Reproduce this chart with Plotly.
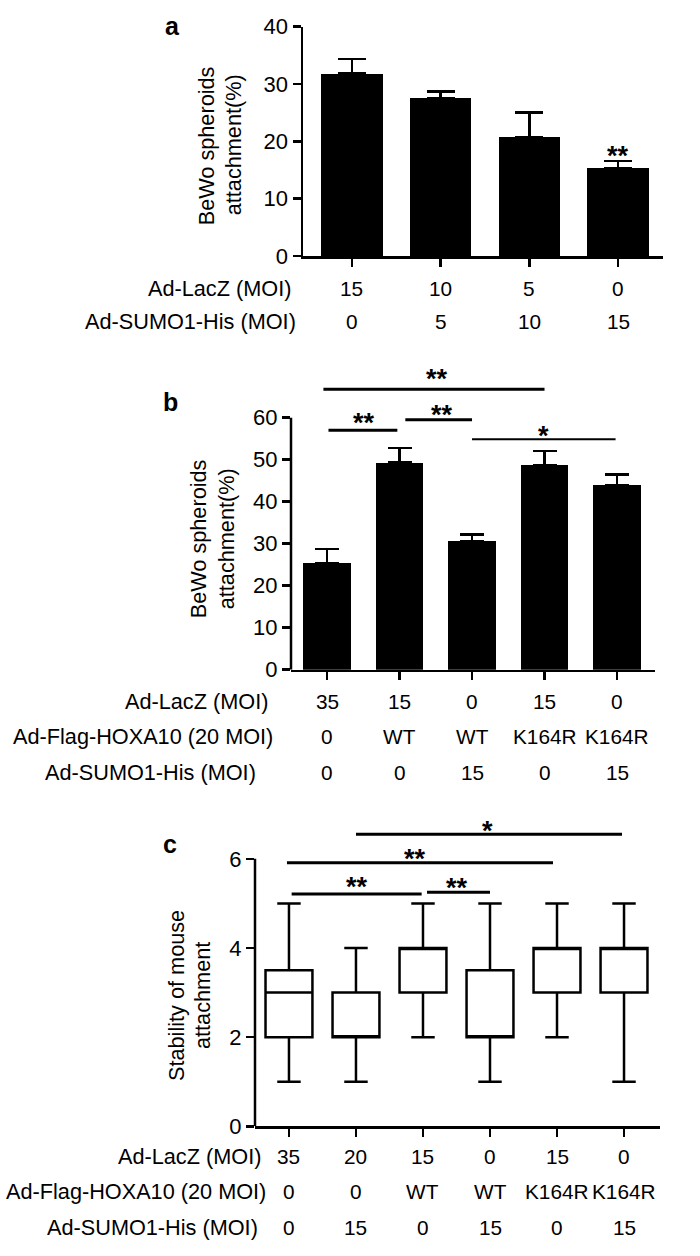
import plotly.graph_objects as go

W, H = 700, 1256
FONT = "Arial, Liberation Sans, sans-serif"

# ---------------- data ----------------
# panel a
a_lacz = ["15", "10", "5", "0"]
a_sumo = ["0", "5", "10", "15"]
a_values = [31.8, 27.5, 20.7, 15.4]
a_err = [2.6, 1.2, 4.3, 1.2]
a_yticks = [0, 10, 20, 30, 40]
a_star_x = [3]
a_star_y = [17.4]
a_star_txt = ["**"]

# panel b
b_lacz = ["35", "15", "0", "15", "0"]
b_hoxa = ["0", "WT", "WT", "K164R", "K164R"]
b_sumo = ["0", "0", "15", "0", "15"]
b_values = [25.4, 49.3, 30.6, 48.8, 43.9]
b_err = [3.3, 3.5, 1.6, 3.3, 2.6]
b_yticks = [0, 10, 20, 30, 40, 50, 60]
b_br_x0 = [-0.05, 0.02, 1.08, 2.0]
b_br_x1 = [3.0, 0.97, 2.0, 3.98]
b_br_y = [66.8, 57.0, 59.5, 54.9]
b_br_w = [3, 3, 3, 2]
b_star_x = [1.52, 0.51, 1.59, 2.98]
b_star_y = [69.3, 58.8, 60.7, 55.6]
b_star_txt = ["**", "**", "**", "*"]

# panel c
c_lacz = ["35", "20", "15", "0", "15", "0"]
c_hoxa = ["0", "0", "WT", "WT", "K164R", "K164R"]
c_sumo = ["0", "15", "0", "15", "0", "15"]
c_min = [1, 1, 2, 1, 2, 1]
c_q1 = [2, 2, 3, 2, 3, 3]
c_med = [3, 2, 4, 2, 4, 4]
c_q3 = [3.5, 3, 4, 3.5, 4, 4]
c_max = [5, 4, 5, 5, 5, 5]
c_yticks = [0, 2, 4, 6]
c_br_x0 = [1.0, -0.03, 0.04, 2.06]
c_br_x1 = [4.97, 3.94, 1.98, 3.0]
c_br_y = [6.55, 5.91, 5.21, 5.25]
c_star_x = [2.97, 1.88, 1.01, 2.51]
c_star_y = [6.62, 6.0, 5.36, 5.34]
c_star_txt = ["*", "**", "**", "**"]


def px(p):
    return p / W


def py(p):
    return 1 - p / H


fig = go.Figure()

# ---- panel a bars
fig.add_trace(go.Bar(
    x=list(range(len(a_values))), y=a_values, width=0.69,
    marker=dict(color="black", line=dict(color="black", width=0)),
    error_y=dict(type="data", array=a_err, symmetric=False,
                 arrayminus=[0] * len(a_err), color="black", thickness=2.5, width=14),
    xaxis="x", yaxis="y", hoverinfo="skip", showlegend=False))

# ---- panel b bars
fig.add_trace(go.Bar(
    x=list(range(len(b_values))), y=b_values, width=0.66,
    marker=dict(color="black", line=dict(color="black", width=0)),
    error_y=dict(type="data", array=b_err, symmetric=False,
                 arrayminus=[0] * len(b_err), color="black", thickness=2.5, width=12),
    xaxis="x2", yaxis="y2", hoverinfo="skip", showlegend=False))

# ---- panel c boxes
fig.add_trace(go.Box(
    x=list(range(len(c_q1))), q1=c_q1, median=c_med, q3=c_q3,
    lowerfence=c_min, upperfence=c_max, width=0.7, whiskerwidth=0.5,
    fillcolor="white", line=dict(color="black", width=2.5),
    boxpoints=False, xaxis="x3", yaxis="y3", hoverinfo="skip", showlegend=False))

# ---- axes
common_x = dict(showgrid=False, zeroline=False, showline=True, linecolor="black",
                linewidth=2.5, ticks="outside", ticklen=8, tickwidth=2.5,
                tickcolor="black", showticklabels=False, fixedrange=True)
common_y = dict(showgrid=False, zeroline=False, linecolor="black", linewidth=2.5,
                ticks="outside", ticklen=8, tickwidth=2.5, tickcolor="black",
                tickfont=dict(family=FONT, size=22, color="black"), fixedrange=True)

fig.update_layout(
    width=W, height=H, margin=dict(l=0, r=0, t=0, b=0),
    paper_bgcolor="white", plot_bgcolor="white", bargap=0,
    font=dict(family=FONT, size=22, color="black"),
    hovermode=False,
    xaxis=dict(domain=[px(303), px(663)], range=[-0.552, 3.507], anchor="y",
               tickvals=list(range(len(a_values))), **common_x),
    yaxis=dict(domain=[py(249), py(15)], range=[0, 40], anchor="x",
               tickvals=a_yticks, showline=True, **common_y),
    xaxis2=dict(domain=[px(291), px(655)], range=[-0.497, 4.524], anchor="y2",
                tickvals=list(range(len(b_values))), **common_x),
    yaxis2=dict(domain=[py(671), py(354)], range=[0, 74], anchor="x2",
                tickvals=b_yticks, showline=False, **common_y),
    xaxis3=dict(domain=[px(255), px(660)], range=[-0.507, 5.537], anchor="y3",
                tickvals=list(range(len(c_q1))), **common_x),
    yaxis3=dict(domain=[py(1137), py(814)], range=[0, 7.1], anchor="x3",
                tickvals=c_yticks, showline=False, **common_y),
)

shapes = []
# y-axis spines for b and c, up to the top tick only
for xr, yr, ticks in [("x2 domain", "y2", b_yticks), ("x3 domain", "y3", c_yticks)]:
    shapes.append(dict(type="line", xref=xr, yref=yr, x0=0, x1=0,
                       y0=min(ticks), y1=max(ticks),
                       line=dict(color="black", width=2.5)))
# significance brackets
for x0, x1, y, w in zip(b_br_x0, b_br_x1, b_br_y, b_br_w):
    shapes.append(dict(type="line", xref="x2", yref="y2", x0=x0, x1=x1, y0=y, y1=y,
                       line=dict(color="black", width=w)))
for x0, x1, y in zip(c_br_x0, c_br_x1, c_br_y):
    shapes.append(dict(type="line", xref="x3", yref="y3", x0=x0, x1=x1, y0=y, y1=y,
                       line=dict(color="black", width=3)))

ann = []


def txt(text, x, y, xref="paper", yref="paper", size=21.7, xanchor="center",
        yanchor="middle", angle=0, bold=False):
    ann.append(dict(text=("<b>%s</b>" % text) if bold else text, x=x, y=y,
                    xref=xref, yref=yref, showarrow=False, xanchor=xanchor,
                    yanchor=yanchor, textangle=angle,
                    font=dict(family=FONT, size=size, color="black")))


# stars
for x, y, t in zip(a_star_x, a_star_y, a_star_txt):
    txt(t, x, y, "x", "y", size=27, bold=True)
for x, y, t in zip(b_star_x, b_star_y, b_star_txt):
    txt(t, x, y, "x2", "y2", size=27, bold=True)
for x, y, t in zip(c_star_x, c_star_y, c_star_txt):
    txt(t, x, y, "x3", "y3", size=27, bold=True)

# rows under axes
rows = [
    ("x", [(a_lacz, 282, "Ad-LacZ (MOI)", 293), (a_sumo, 316, "Ad-SUMO1-His (MOI)", 298)]),
    ("x2", [(b_lacz, 703, "Ad-LacZ (MOI)", 270), (b_hoxa, 739, "Ad-Flag-HOXA10 (20 MOI)", 275),
            (b_sumo, 776, "Ad-SUMO1-His (MOI)", 258)]),
    ("x3", [(c_lacz, 1168, "Ad-LacZ (MOI)", 263), (c_hoxa, 1203, "Ad-Flag-HOXA10 (20 MOI)", 268),
            (c_sumo, 1240, "Ad-SUMO1-His (MOI)", 260)]),
]
for xr, rr in rows:
    for vals, ypix, label, xr_edge in rr:
        txt(label, px(xr_edge), py(ypix), xanchor="right")
        for i, v in enumerate(vals):
            txt(v, i, py(ypix), xref=xr, size=20.8)

# y titles (two lines each)
for l1, l2, x1p, x2p, yc in [
    ("BeWo spheroids", "attachment(%)", 206, 233, 136),
    ("BeWo spheroids", "attachment(%)", 198, 226, 538),
    ("Stability of mouse", "attachment", 176, 202, 1004),
]:
    txt(l1, px(x1p), py(yc), angle=-90)
    txt(l2, px(x2p), py(yc), angle=-90)

# panel letters
txt("a", px(172), py(14), size=25, bold=True)
txt("b", px(170), py(398), size=25, bold=True)
txt("c", px(170), py(849), size=25, bold=True)

fig.update_layout(shapes=shapes, annotations=ann)
fig.write_html(
    "out.html",
    config={"displayModeBar": False, "staticPlot": True},
    post_script="document.body.style.margin='0';document.body.style.padding='0';",
)
